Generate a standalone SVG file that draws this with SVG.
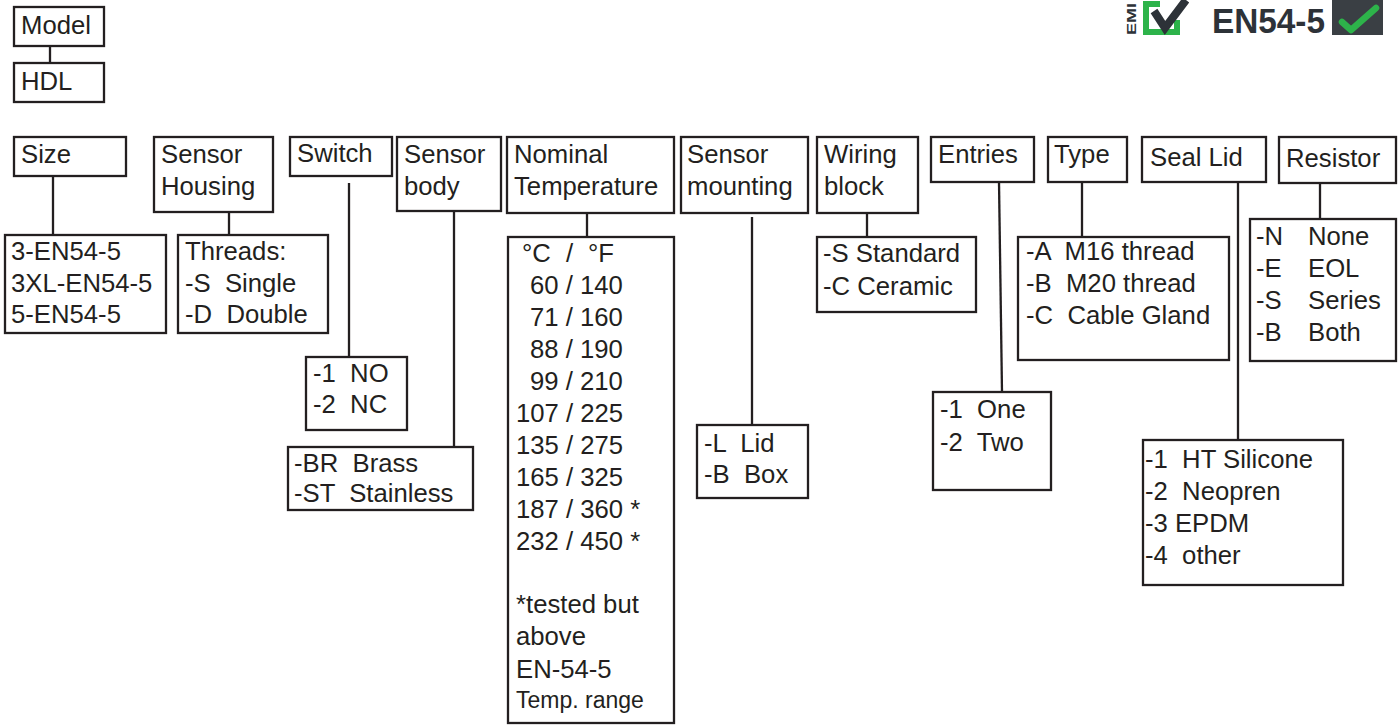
<svg xmlns="http://www.w3.org/2000/svg" width="1400" height="725" viewBox="0 0 1400 725" xml:space="preserve">
<style>
.b{fill:#fff;stroke:#231f20;stroke-width:2.3}
.c{stroke:#231f20;stroke-width:2.3;fill:none}
text{font-family:"Liberation Sans",Arial,sans-serif;font-size:25.7px;fill:#231f20;white-space:pre}
.s{font-size:23px}
</style>
<rect width="1400" height="725" fill="#fff"/>
<g id="connectors">
<line class="c" x1="50" y1="46" x2="50" y2="63"/>
<line class="c" x1="53" y1="176" x2="53" y2="235"/>
<line class="c" x1="229" y1="212" x2="229" y2="235"/>
<line class="c" x1="349" y1="183" x2="349" y2="357"/>
<line class="c" x1="454" y1="211" x2="454" y2="447"/>
<line class="c" x1="587" y1="213" x2="587" y2="237"/>
<line class="c" x1="752" y1="217" x2="752" y2="425"/>
<line class="c" x1="867" y1="213" x2="867" y2="237"/>
<line class="c" x1="999" y1="182" x2="1002" y2="392"/>
<line class="c" x1="1082" y1="182" x2="1082" y2="237"/>
<line class="c" x1="1238" y1="182" x2="1238" y2="440"/>
<line class="c" x1="1320" y1="183" x2="1320" y2="219"/>
</g>
<g id="model"><rect class="b" x="14" y="7" width="90" height="39"/><text x="21" y="34">Model</text></g>
<g id="hdl"><rect class="b" x="14" y="63" width="90" height="39"/><text x="21" y="90">HDL</text></g>

<g id="size"><rect class="b" x="14" y="137" width="112" height="39"/><text x="21" y="163">Size</text></g>
<g id="size-opts"><rect class="b" x="5" y="235" width="161" height="98"/><text x="11" y="260">3-EN54-5</text><text x="11" y="292">3XL-EN54-5</text><text x="11" y="323">5-EN54-5</text></g>

<g id="housing"><rect class="b" x="154" y="137" width="119" height="75"/><text x="161" y="163">Sensor</text><text x="161" y="195">Housing</text></g>
<g id="housing-opts"><rect class="b" x="178" y="235" width="150" height="98"/><text x="185" y="260">Threads:</text><text x="185" y="292">-S  Single</text><text x="185" y="323">-D  Double</text></g>

<g id="switch"><rect class="b" x="290" y="137" width="102" height="39"/><text x="297" y="162">Switch</text></g>
<g id="switch-opts"><rect class="b" x="306" y="357" width="101" height="73"/><text x="313" y="382">-1  NO</text><text x="313" y="413">-2  NC</text></g>

<g id="body"><rect class="b" x="397" y="137" width="104" height="74"/><text x="404" y="163">Sensor</text><text x="404" y="195">body</text></g>
<g id="body-opts"><rect class="b" x="288" y="447" width="185" height="63"/><text x="294" y="472">-BR  Brass</text><text x="294" y="502">-ST  Stainless</text></g>

<g id="temp"><rect class="b" x="507" y="137" width="167" height="76"/><text x="514" y="163">Nominal</text><text x="514" y="195">Temperature</text></g>
<g id="temp-opts"><rect class="b" x="508" y="237" width="166" height="486"/>
<text x="522" y="262">°C</text><text x="566" y="262">/</text><text x="588" y="262">°F</text>
<text x="530" y="294">60 / 140</text>
<text x="530" y="326">71 / 160</text>
<text x="530" y="358">88 / 190</text>
<text x="530" y="390">99 / 210</text>
<text x="516" y="422">107 / 225</text>
<text x="516" y="454">135 / 275</text>
<text x="516" y="486">165 / 325</text>
<text x="516" y="518">187 / 360 *</text>
<text x="516" y="550">232 / 450 *</text>
<text x="516" y="613">*tested but</text>
<text x="516" y="645">above</text>
<text x="516" y="678">EN-54-5</text>
<text class="s" x="516" y="708">Temp. range</text>
</g>

<g id="mounting"><rect class="b" x="681" y="137" width="127" height="76"/><text x="687" y="163">Sensor</text><text x="687" y="195">mounting</text></g>
<g id="mounting-opts"><rect class="b" x="697" y="425" width="111" height="73"/><text x="704" y="452">-L  Lid</text><text x="704" y="483">-B  Box</text></g>

<g id="wiring"><rect class="b" x="817" y="137" width="101" height="76"/><text x="824" y="163">Wiring</text><text x="824" y="195">block</text></g>
<g id="wiring-opts"><rect class="b" x="817" y="237" width="159" height="75"/><text x="823" y="262">-S Standard</text><text x="823" y="295">-C Ceramic</text></g>

<g id="entries"><rect class="b" x="931" y="137" width="103" height="45"/><text x="938" y="163">Entries</text></g>
<g id="entries-opts"><rect class="b" x="933" y="392" width="118" height="98"/><text x="940" y="418">-1  One</text><text x="940" y="451">-2  Two</text></g>

<g id="type"><rect class="b" x="1048" y="137" width="79" height="45"/><text x="1054" y="163">Type</text></g>
<g id="type-opts"><rect class="b" x="1018" y="237" width="211" height="123"/><text x="1026" y="260">-A  M16 thread</text><text x="1026" y="292">-B  M20 thread</text><text x="1026" y="324">-C  Cable Gland</text></g>

<g id="seal"><rect class="b" x="1142" y="137" width="124" height="45"/><text x="1150" y="166">Seal Lid</text></g>
<g id="seal-opts"><rect class="b" x="1143" y="440" width="200" height="145"/><text x="1145" y="468">-1  HT Silicone</text><text x="1145" y="500">-2  Neopren</text><text x="1145" y="532">-3 EPDM</text><text x="1145" y="564">-4  other</text></g>

<g id="resistor"><rect class="b" x="1279" y="137" width="117" height="46"/><text x="1286" y="167">Resistor</text></g>
<g id="resistor-opts"><rect class="b" x="1250" y="219" width="146" height="142"/>
<text x="1256" y="245">-N</text><text x="1308" y="245">None</text>
<text x="1256" y="277">-E</text><text x="1308" y="277">EOL</text>
<text x="1256" y="309">-S</text><text x="1308" y="309">Series</text>
<text x="1256" y="341">-B</text><text x="1308" y="341">Both</text>
</g>

<g id="logo">
<text transform="translate(1136,35) rotate(-90)" style="font-size:12px;font-weight:bold;fill:#2d3238" textLength="32" lengthAdjust="spacingAndGlyphs">EMI</text>
<path d="M1143,1 H1160 V7 H1149 V29 H1174 V20 H1180 V35 H1143 Z" fill="#2db34a"/>
<path d="M1154,11 L1165,28 L1186,0" fill="none" stroke="#2d3238" stroke-width="8" stroke-linejoin="miter"/>
<text x="1212" y="33" style="font-size:35px;font-weight:bold;fill:#2d3238" textLength="113" lengthAdjust="spacingAndGlyphs">EN54-5</text>
<rect x="1332" y="0" width="51" height="35" fill="#3a3f44"/>
<path d="M1342,22 L1351,30 L1376,8" fill="none" stroke="#2db34a" stroke-width="6.5" stroke-linecap="round" stroke-linejoin="round"/>
</g>
</svg>
